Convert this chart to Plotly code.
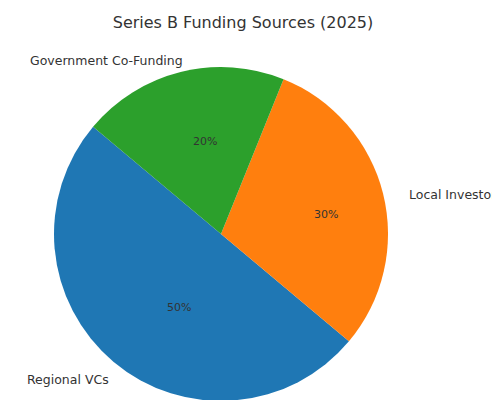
import math
import plotly.graph_objects as go

labels = ["Regional VCs", "Local Investors", "Government Co-Funding"]
values = [50, 30, 20]
colors = ["#1f77b4", "#ff7f0e", "#2ca02c"]
start_angle = 140

W, H = 500, 400
cx, cy, r = 221, 231, 167
dcx, dcy = 213, 226  # domain centre offset to compensate plotly's placement

fig = go.Figure(go.Pie(
    labels=labels, values=values, sort=False, direction="counterclockwise",
    rotation=130, marker=dict(colors=colors), textinfo="none",
    hoverinfo="label+percent", showlegend=False,
    domain=dict(x=[(dcx - r) / W, (dcx + r) / W], y=[1 - (dcy + r) / H, 1 - (dcy - r) / H]),
))

ann = []
total = sum(values)
cum = 0
for lab, v in zip(labels, values):
    mid = math.radians(start_angle + 360 * (cum + v / 2) / total)
    cum += v
    lx = cx + 1.1 * r * math.cos(mid)
    ly = cy - 1.1 * r * math.sin(mid)
    ann.append(dict(x=lx / W, y=1 - ly / H, xref="paper", yref="paper", text=lab,
                    showarrow=False, xanchor="left" if math.cos(mid) > 0 else "right",
                    yanchor="middle", font=dict(size=12.5, color="#333")))
    px = cx + 0.6 * r * math.cos(mid)
    py = cy - 0.6 * r * math.sin(mid)
    ann.append(dict(x=px / W, y=1 - py / H, xref="paper", yref="paper",
                    text=f"{round(100 * v / total)}%", showarrow=False,
                    font=dict(size=11, color="#333")))

fig.update_layout(
    width=W, height=H, margin=dict(l=0, r=0, t=0, b=0),
    paper_bgcolor="white", font=dict(family="DejaVu Sans"),
    title=dict(text="Series B Funding Sources (2025)", x=0.47, y=0.965, xanchor="center",
               yanchor="middle", font=dict(size=16, color="#333")),
    annotations=ann,
)
fig.write_html("out.html")
